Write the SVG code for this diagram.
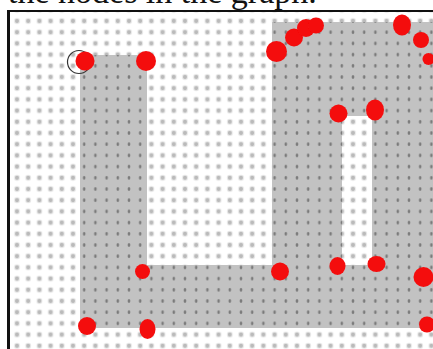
<svg xmlns="http://www.w3.org/2000/svg" width="433" height="349" viewBox="0 0 433 349">
  <style>
    .node { fill: #f40c0c; filter: url(#soft); }
    .caption { font-family: "Liberation Serif", "Times New Roman", serif; font-size: 34px; fill: #111; }
  </style>
  <defs>
    <filter id="soft" x="-30%" y="-30%" width="160%" height="160%">
      <feGaussianBlur stdDeviation="0.7"/>
    </filter>
    <pattern id="dotsWhite" width="11.2" height="11.2" patternUnits="userSpaceOnUse" x="11.4" y="15.4">
      <rect width="11.2" height="11.2" fill="#ffffff"/>
      <circle cx="5.6" cy="5.6" r="3" fill="#e8e8e8"/>
      <circle cx="5.6" cy="5.6" r="2" fill="#bababa"/>
    </pattern>
    <pattern id="dotsGray" width="11.2" height="11.2" patternUnits="userSpaceOnUse" x="11.4" y="15.4">
      <rect width="11.2" height="11.2" fill="#c2c2c2"/>
      <ellipse cx="5.6" cy="5.6" rx="1.3" ry="1.8" fill="#7a7a7a"/>
    </pattern>
  </defs>

  <rect width="433" height="349" fill="#ffffff"/>
  <text class="caption" x="8" y="3">the nodes in the graph.</text>

  <!-- board -->
  <rect x="9" y="11" width="424" height="338" fill="url(#dotsWhite)"/>
  <path d="M80,55 H147 V265 H272 V22 H433 V328 H80 Z M342,116 H372 V265 H342 Z" fill="url(#dotsGray)" fill-rule="evenodd"/>
  <line x1="8" y1="11" x2="433" y2="11" stroke="#111" stroke-width="2.2"/>
  <line x1="8.5" y1="10" x2="8.5" y2="349" stroke="#111" stroke-width="3"/>

  <g id="connectors"></g>

  <g id="node-start">
    <circle cx="79" cy="62" r="11.5" fill="none" stroke="#333" stroke-width="1.2"/>
    <circle class="node" cx="85" cy="61" r="9.5"/>
  </g>
  <g id="node-2"><circle class="node" cx="146" cy="61" r="10"/></g>
  <g id="node-3"><circle class="node" cx="276.5" cy="51.5" r="10.5"/></g>
  <g id="node-4"><circle class="node" cx="294" cy="37.5" r="9"/></g>
  <g id="node-5"><circle class="node" cx="306" cy="28" r="9"/></g>
  <g id="node-6"><circle class="node" cx="316" cy="25.5" r="8"/></g>
  <g id="node-7"><ellipse class="node" cx="402" cy="25" rx="9" ry="10.5"/></g>
  <g id="node-8"><circle class="node" cx="421" cy="40" r="8"/></g>
  <g id="node-9"><circle class="node" cx="428.5" cy="59" r="6"/></g>
  <g id="node-10"><circle class="node" cx="338.5" cy="113.5" r="9"/></g>
  <g id="node-11"><ellipse class="node" cx="375" cy="110" rx="9" ry="10.5"/></g>
  <g id="node-12"><circle class="node" cx="142.5" cy="271.5" r="7.5"/></g>
  <g id="node-13"><circle class="node" cx="280" cy="271.5" r="9"/></g>
  <g id="node-14"><ellipse class="node" cx="337.5" cy="266" rx="8" ry="9"/></g>
  <g id="node-15"><ellipse class="node" cx="376.5" cy="264" rx="9" ry="8"/></g>
  <g id="node-16"><circle class="node" cx="423.5" cy="277" r="10"/></g>
  <g id="node-17"><circle class="node" cx="427" cy="324.5" r="8"/></g>
  <g id="node-18"><circle class="node" cx="87" cy="326" r="9"/></g>
  <g id="node-19"><ellipse class="node" cx="147.5" cy="329" rx="8" ry="10"/></g>
</svg>
